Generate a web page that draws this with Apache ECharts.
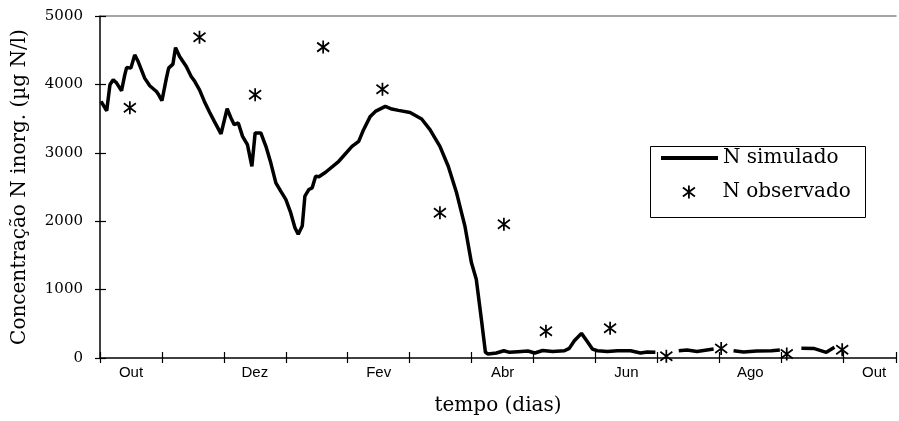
<!DOCTYPE html>
<html>
<head>
<meta charset="utf-8">
<script src="https://cdn.jsdelivr.net/npm/echarts@6/dist/echarts.min.js"></script>
<style>
html,body{margin:0;padding:0;background:#fff;}
#chart{width:899px;height:421px;}
</style>
</head>
<body>
<div id="chart"></div>
<script>
// x values are days since 1 October; y values in µg N/l
const monthLabels = ['Out', 'Dez', 'Fev', 'Abr', 'Jun', 'Ago', 'Out'];
const simDays = [0.5,1.1,3.3,4.9,6.5,8.2,10.6,12.2,13.1,15.2,17.1,18.8,22.0,24.5,27.8,28.9,30.5,32.7,33.8,35.9,37.2,39.2,42.5,44.9,46.5,49.0,51.4,53.9,56.3,59.6,62.6,64.5,66.1,68.1,70.2,72.6,74.8,76.4,79.2,81.7,84.1,86.6,89.0,91.5,93.9,96.0,97.6,99.6,100.9,102.9,104.5,106.2,107.8,111.1,117.6,124.1,127.4,129.8,133.1,135.6,140.5,143.7,147.0,152.7,158.4,162.5,167.4,171.5,175.6,179.7,182.9,185.3,187.8,189.8,191.1,195.2,198.9,201.7,205.8,210.7,214.1,218.0,222.9,228.7,231.1,233.6,237.1,239.7,242.5,245.0,249.9,254.8,261.3,266.2,269.5,273.5,278,285.0,289.1,294.0,298.9,302.2,307,312.0,317.0,323.4,330.7,334.8,340,345.4,351.8,357.7,361.7];
const simValues = [3751,3732,3615,3994,4067,4019,3907,4140,4246,4238,4431,4334,4092,3980,3896,3848,3761,4092,4238,4296,4538,4407,4261,4115,4052,3921,3751,3596,3459,3276,3644,3509,3411,3436,3240,3119,2803,3290,3290,3095,2853,2561,2439,2318,2124,1905,1808,1929,2366,2464,2488,2657,2649,2716,2876,3095,3168,3338,3532,3605,3678,3640,3620,3590,3494,3338,3095,2803,2415,1929,1395,1152,569,83,58,73,106,83,92,102,73,109,95,106,141,252,360,252,131,106,95,106,106,73,87,83,null,106,117,95,117,131,null,106,87,102,106,117,null,141,138,83,156];
const obsDays = [14.7,49.0,76.4,109.9,139.1,167.4,198.9,219.6,251.2,278.9,305.9,338.2,365.5];
const obsValues = [3660,4690,3850,4545,3930,2125,1955,390,435,25,140,60,120];

const simData = simDays.map((d, i) => [d, simValues[i] === null ? '-' : simValues[i]]);
const obsData = obsDays.map((d, i) => [d, obsValues[i]]);

const serif = 'DejaVu Serif';
const star = 'path://M6,0L6,13M0,2L12,11M0,11L12,2';
const chart = echarts.init(document.getElementById('chart'), null, {renderer: 'canvas'});
chart.setOption({
  animation: false,
  backgroundColor: '#fff',
  grid: {left: 100, right: 0, top: 16, bottom: 62, containLabel: false},
  xAxis: [
    {type: 'value', position: 'bottom', min: 0, max: 392, interval: 30.5,
     name: 'tempo (dias)', nameLocation: 'middle', nameGap: 38,
     nameTextStyle: {fontFamily: serif, fontSize: 20, color: '#000'},
     axisLine: {show: true, lineStyle: {color: '#000', width: 1.5}},
     axisTick: {show: true, inside: false, length: 5, lineStyle: {color: '#000', width: 1.2}},
     axisLabel: {show: false}, splitLine: {show: false}},
    {type: 'value', position: 'bottom', min: 0, max: 392, interval: 30.5,
     axisLine: {show: false},
     axisTick: {show: true, inside: true, length: 6, lineStyle: {color: '#000', width: 1.2}},
     axisLabel: {show: false}, splitLine: {show: false}},
    {type: 'value', position: 'bottom', min: 0, max: 392, interval: 15.25,
     axisLine: {show: false}, axisTick: {show: false}, splitLine: {show: false},
     axisLabel: {show: true, margin: 7, fontFamily: 'Liberation Sans', fontSize: 15, color: '#000',
       formatter: function (v) {
         const k = Math.round(v / 15.25);
         if (k % 4 === 1) { return monthLabels[(k - 1) / 4] || ''; }
         return '';
       }}},
    {type: 'value', position: 'top', min: 0, max: 392,
     axisLine: {show: true, lineStyle: {color: '#888', width: 1.5}},
     axisTick: {show: false}, axisLabel: {show: false}, splitLine: {show: false}}
  ],
  yAxis: [
    {type: 'value', position: 'left', min: 0, max: 5000, interval: 1000,
     name: 'Concentração N inorg. (µg N/l)', nameLocation: 'middle', nameGap: 70,
     nameTextStyle: {fontFamily: serif, fontSize: 20, color: '#000'},
     axisLine: {show: true, lineStyle: {color: '#000', width: 1.5}},
     axisTick: {show: true, inside: false, length: 5, lineStyle: {color: '#000', width: 1.2}},
     axisLabel: {margin: 17, fontFamily: serif, fontSize: 15, color: '#000',
       formatter: function (v) { return String(v); }},
     splitLine: {show: false}},
    {type: 'value', position: 'left', min: 0, max: 5000, interval: 1000,
     axisLine: {show: false},
     axisTick: {show: true, inside: true, length: 6, lineStyle: {color: '#000', width: 1.2}},
     axisLabel: {show: false}, splitLine: {show: false}}
  ],
  legend: [
    {data: [{name: 'N simulado', icon: 'rect'}], left: 661, top: 148, padding: 0,
     itemWidth: 57, itemHeight: 4,
     itemStyle: {color: '#000'},
     textStyle: {fontFamily: serif, fontSize: 20, color: '#000'}},
    {data: [{name: 'N observado', icon: star}], left: 682, top: 182, padding: 0,
     itemWidth: 13, itemHeight: 13,
     itemStyle: {color: 'rgba(0,0,0,0)', borderColor: '#000', borderWidth: 1.8},
     textStyle: {fontFamily: serif, fontSize: 20, color: '#000', padding: [0, 0, 4, 22]}}
  ],
  graphic: [
    {type: 'rect', left: 648, top: 144, shape: {width: 215, height: 71},
     style: {fill: 'none', stroke: '#000', lineWidth: 1}, silent: true}
  ],
  series: [
    {name: 'N simulado', type: 'line', data: simData, symbol: 'none', connectNulls: false,
     xAxisIndex: 0, yAxisIndex: 0,
     lineStyle: {color: '#000', width: 3.5}, itemStyle: {color: '#000'}, z: 3},
    {name: 'N observado', type: 'scatter', data: obsData, symbol: star, symbolSize: [12, 13],
     xAxisIndex: 0, yAxisIndex: 0,
     itemStyle: {color: 'rgba(0,0,0,0)', borderColor: '#000', borderWidth: 1.8, opacity: 1}, z: 4}
  ]
});
</script>
</body>
</html>
